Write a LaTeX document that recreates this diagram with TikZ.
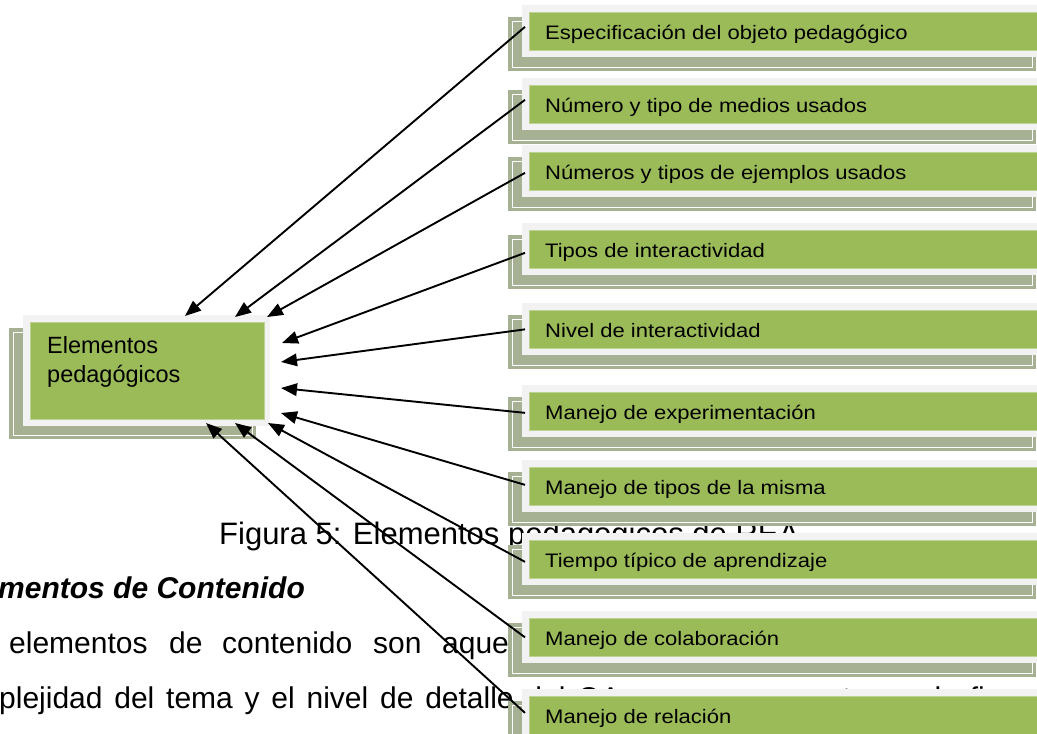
\documentclass[tikz,border=0pt]{standalone}
\usepackage{fontspec}
\setmainfont{Liberation Sans}
\newfontfamily\boxfont[FakeStretch=1.13]{Liberation Sans}
\usetikzlibrary{arrows.meta,calc}
\definecolor{leaf}{HTML}{9BBB59}
\definecolor{frm}{HTML}{F2F2F2}
\definecolor{shd}{HTML}{A6B194}
\newcommand\rbox[3]{%
  \fill[shd] (508,#2+5) rectangle (1036,#2+59);
  \draw[white, line width=0.8pt] (512,#2+9) rectangle (1032,#2+55);
  \fill[frm] (522,#2-7) rectangle (1060,#2+45);
  \node[gbox, minimum width=540pt, minimum height=38pt] (#1) at (529,#2) {};
  \node[boxtext] (#1t) at (545,#2+27.5) {#3};
}
\begin{document}
\begin{tikzpicture}[x=1pt,y=-1pt,
  arr/.style={line width=1.9pt, -{Triangle[length=16pt,width=12.5pt]}},
  gbox/.style={fill=leaf, draw=leaf!65!white, line width=0.7pt, inner sep=0pt, anchor=north west},
  boxtext/.style={anchor=base west, inner sep=0pt, font=\boxfont\fontsize{19.5}{22}\selectfont},
  body/.style={anchor=base west, inner sep=0pt, font=\fontsize{30}{36}\selectfont}]
\useasboundingbox (0,0) rectangle (1037,734);
\clip (0,0) rectangle (1037,734);

% page text behind the diagram
\node[body, font=\fontsize{31}{36}\selectfont] (cap) at (219,544) {Figura 5: Elementos pedagógicos de REA};
\node[body, font=\fontsize{30}{36}\selectfont\bfseries\itshape] (head) at (-2,598) {mentos de Contenido};
\node[body] (w1) at (9,653) {elementos};
\node[body] (w2) at (169,653) {de};
\node[body] (w3) at (222,653) {contenido};
\node[body] (w4) at (373,653) {son};
\node[body] (w5) at (442,653) {aquellos};
\node[body] (l4) at (-1,708) {\spaceskip=11.8pt plus 0pt plejidad del tema y el nivel de detalle del OA, como se muestra en la figura};

% main box
\fill[shd] (9,328) rectangle (256,439);
\draw[white, line width=0.8pt] (13,332) rectangle (252,435);
\fill[frm] (23,315) rectangle (270,426);
\node[gbox, minimum width=234pt, minimum height=97pt] (main) at (30,322) {};
\node[anchor=north west, inner sep=0pt, align=left, font=\fontsize{23.5}{29}\selectfont] (maint) at (47,336) {Elementos\\pedagógicos};

% right boxes
\rbox{g1}{12}{Especificación del objeto pedagógico}
\rbox{g2}{85}{Número y tipo de medios usados}
\rbox{g3}{152}{Números y tipos de ejemplos usados}
\rbox{g4}{230}{Tipos de interactividad}
\rbox{g5}{310}{Nivel de interactividad}
\rbox{g6}{392}{Manejo de experimentación}
\rbox{g7}{467}{Manejo de tipos de la misma}
\rbox{g8}{540}{Tiempo típico de aprendizaje}
\rbox{g9}{618}{Manejo de colaboración}
\rbox{g10}{696}{Manejo de relación}

% arrow tips on the main box
\coordinate (t1) at (185,316);
\coordinate (t2) at (235,317);
\coordinate (t3) at (267,317);
\coordinate (t4) at (282,343);
\coordinate (t5) at (281,362);
\coordinate (t6) at (281,388);
\coordinate (t7) at (281,413);
\coordinate (t8) at (268,423);
\coordinate (t9) at (235,423);
\coordinate (t10) at (206,423);

\draw[arr] ($(g1.west)+(-4,-4.5)$) -- (t1);
\draw[arr] ($(g2.west)+(-4,-4.5)$) -- (t2);
\draw[arr] ($(g3.west)+(-4,1.5)$) -- (t3);
\draw[arr] ($(g4.west)+(-4,3.5)$) -- (t4);
\draw[arr] ($(g5.west)+(-4,0)$) -- (t5);
\draw[arr] ($(g6.west)+(-4,1.5)$) -- (t6);
\draw[arr] ($(g7.west)+(-4,-1.5)$) -- (t7);
\draw[arr] ($(g8.west)+(-4,2.5)$) -- (t8);
\draw[arr] ($(g9.west)+(-4,0)$) -- (t9);
\draw[arr] ($(g10.west)+(-4,-2.5)$) -- (t10);
\end{tikzpicture}
\end{document}
